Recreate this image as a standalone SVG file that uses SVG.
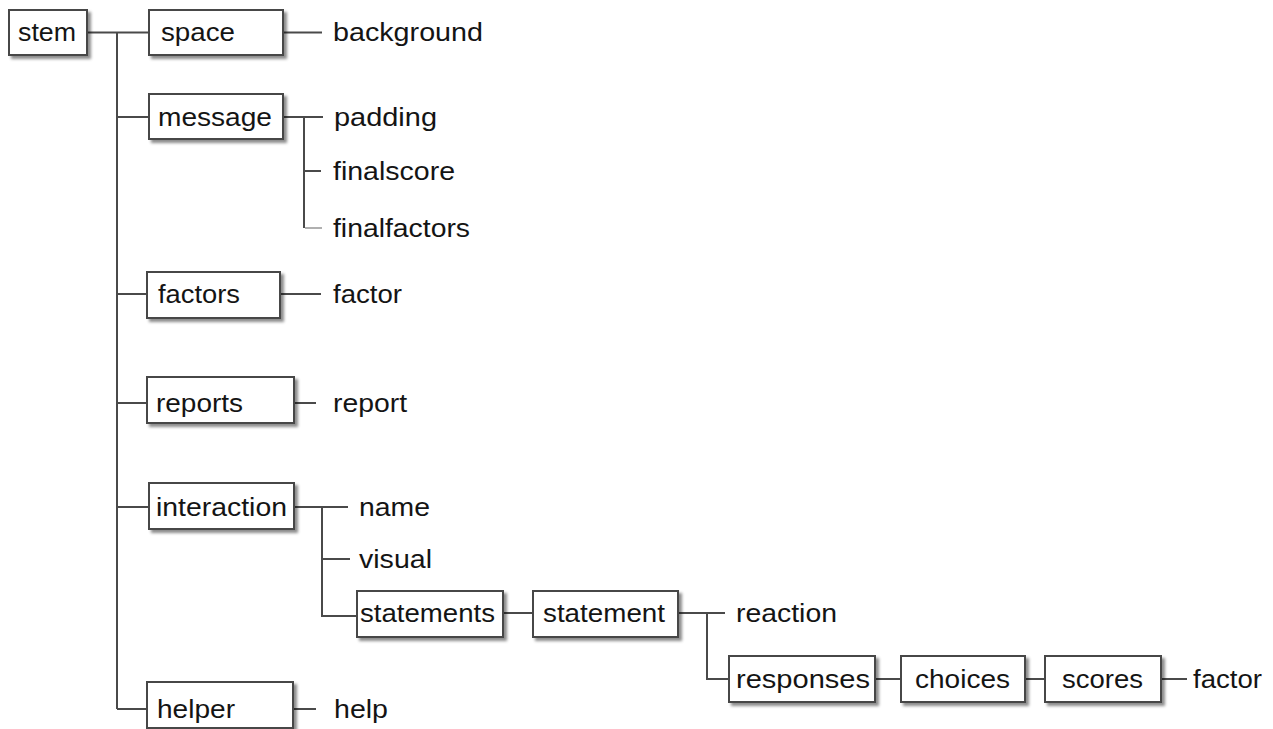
<svg xmlns="http://www.w3.org/2000/svg" width="1273" height="729" viewBox="0 0 1273 729">
<style>
.box{fill:#fff;stroke:#474747;stroke-width:2;filter:url(#sh)}
.t{font-family:"Liberation Sans",Arial,sans-serif;font-size:26px;fill:#141414}
.c{fill:none;stroke:#4a4a4a;stroke-width:2}
.lt{fill:none;stroke:#b0b0b0;stroke-width:2}
</style>
<defs>
<filter id="sh" x="-10%" y="-20%" width="130%" height="160%">
<feDropShadow dx="3" dy="3" stdDeviation="1.6" flood-color="#000" flood-opacity="0.45"/>
</filter>
</defs>
<rect width="1273" height="729" fill="#fff"/>
<g id="connectors">
<path class="c" d="M87 32.5H149M117 32.5V709M117 117H149M117 294H147M117 403H147M117 507H149M117 709H147"/>
<path class="c" d="M283 32.5H322"/>
<path class="c" d="M283 117H323M304 117V228M304 171H321"/>
<path class="lt" d="M305 228H322"/>
<path class="c" d="M280 294H321"/>
<path class="c" d="M294 403H316"/>
<path class="c" d="M294 507H348M322 507V616H357M322 559H350"/>
<path class="c" d="M293 709H316"/>
<path class="c" d="M503 613H533"/>
<path class="c" d="M678 613H725M707 613V679H729"/>
<path class="c" d="M875 679H901M1025 679H1045M1161 679H1187"/>
</g>
<g id="stem"><rect class="box" x="9" y="10" width="78" height="45"/><text class="t" x="18" y="41" textLength="58" lengthAdjust="spacingAndGlyphs">stem</text></g>
<g id="space"><rect class="box" x="149" y="10" width="134" height="45"/><text class="t" x="161" y="41" textLength="74" lengthAdjust="spacingAndGlyphs">space</text></g>
<g id="background"><text class="t" x="333" y="41" textLength="150" lengthAdjust="spacingAndGlyphs">background</text></g>
<g id="message"><rect class="box" x="149" y="94" width="134" height="45"/><text class="t" x="158" y="125.5" textLength="114" lengthAdjust="spacingAndGlyphs">message</text></g>
<g id="padding"><text class="t" x="334" y="125.5" textLength="103" lengthAdjust="spacingAndGlyphs">padding</text></g>
<g id="finalscore"><text class="t" x="333" y="179.5" textLength="122" lengthAdjust="spacingAndGlyphs">finalscore</text></g>
<g id="finalfactors"><text class="t" x="333" y="236.5" textLength="137" lengthAdjust="spacingAndGlyphs">finalfactors</text></g>
<g id="factors"><rect class="box" x="147" y="272" width="133" height="46"/><text class="t" x="158" y="302.5" textLength="82" lengthAdjust="spacingAndGlyphs">factors</text></g>
<g id="factor1"><text class="t" x="333" y="302.5" textLength="69" lengthAdjust="spacingAndGlyphs">factor</text></g>
<g id="reports"><rect class="box" x="147" y="377" width="147" height="46"/><text class="t" x="156" y="411.5" textLength="87" lengthAdjust="spacingAndGlyphs">reports</text></g>
<g id="report"><text class="t" x="333" y="411.5" textLength="74" lengthAdjust="spacingAndGlyphs">report</text></g>
<g id="interaction"><rect class="box" x="149" y="483" width="145" height="46"/><text class="t" x="156" y="515.5" textLength="131" lengthAdjust="spacingAndGlyphs">interaction</text></g>
<g id="name"><text class="t" x="359" y="515.5" textLength="71" lengthAdjust="spacingAndGlyphs">name</text></g>
<g id="visual"><text class="t" x="359" y="567.5" textLength="73" lengthAdjust="spacingAndGlyphs">visual</text></g>
<g id="statements"><rect class="box" x="357" y="591" width="146" height="46"/><text class="t" x="360" y="621.5" textLength="135" lengthAdjust="spacingAndGlyphs">statements</text></g>
<g id="statement"><rect class="box" x="533" y="591" width="145" height="46"/><text class="t" x="543" y="621.5" textLength="122" lengthAdjust="spacingAndGlyphs">statement</text></g>
<g id="reaction"><text class="t" x="736" y="621.5" textLength="101" lengthAdjust="spacingAndGlyphs">reaction</text></g>
<g id="responses"><rect class="box" x="729" y="656" width="146" height="46"/><text class="t" x="736" y="687.5" textLength="134" lengthAdjust="spacingAndGlyphs">responses</text></g>
<g id="choices"><rect class="box" x="901" y="656" width="124" height="46"/><text class="t" x="915" y="687.5" textLength="95" lengthAdjust="spacingAndGlyphs">choices</text></g>
<g id="scores"><rect class="box" x="1045" y="656" width="116" height="46"/><text class="t" x="1062" y="687.5" textLength="81" lengthAdjust="spacingAndGlyphs">scores</text></g>
<g id="factor2"><text class="t" x="1193" y="687.5" textLength="69" lengthAdjust="spacingAndGlyphs">factor</text></g>
<g id="helper"><rect class="box" x="147" y="682" width="146" height="46"/><text class="t" x="157" y="717.5" textLength="78" lengthAdjust="spacingAndGlyphs">helper</text></g>
<g id="help"><text class="t" x="334" y="717.5" textLength="54" lengthAdjust="spacingAndGlyphs">help</text></g>
</svg>
